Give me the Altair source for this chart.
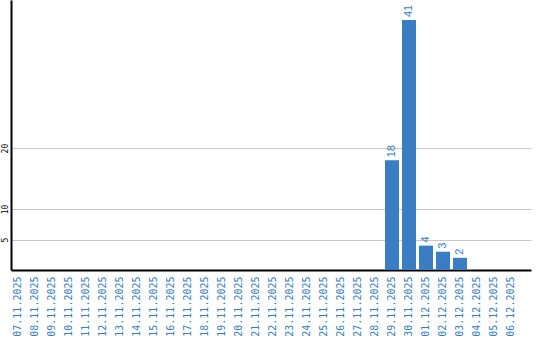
import altair as alt
import pandas as pd

dates = ["07.11.2025", "08.11.2025", "09.11.2025", "10.11.2025", "11.11.2025",
         "12.11.2025", "13.11.2025", "14.11.2025", "15.11.2025", "16.11.2025",
         "17.11.2025", "18.11.2025", "19.11.2025", "20.11.2025", "21.11.2025",
         "22.11.2025", "23.11.2025", "24.11.2025", "25.11.2025", "26.11.2025",
         "27.11.2025", "28.11.2025", "29.11.2025", "30.11.2025", "01.12.2025",
         "02.12.2025", "03.12.2025", "04.12.2025", "05.12.2025", "06.12.2025"]
counts = [0, 0, 0, 0, 0, 0, 0, 0, 0, 0,
          0, 0, 0, 0, 0, 0, 0, 0, 0, 0,
          0, 0, 18, 41, 4, 3, 2, 0, 0, 0]
y_ticks = [5, 10, 20]

df = pd.DataFrame({"date": dates, "count": counts})
BLUE = "#3a7dc3"

x = alt.X("date:N", sort=dates,
          scale=alt.Scale(domain=dates, paddingInner=0.176, paddingOuter=0.382, align=0),
          axis=alt.Axis(title=None, labelAngle=270, labelFont="DejaVu Sans Mono",
                        labelFontSize=10, labelColor=BLUE, ticks=False,
                        labelPadding=6, domainColor="black", domainWidth=2,
                        labelOverlap=False, labelAlign="right", labelBaseline="middle"))
y = alt.Y("count:Q", scale=alt.Scale(domain=[0, 44.3], nice=False, zero=True),
          axis=alt.Axis(title=None, values=y_ticks, labelAngle=270, labelAlign="center",
                        labelBaseline="bottom", labelFont="DejaVu Sans Mono",
                        labelFontSize=8, labelColor="black", ticks=False, labelPadding=2,
                        domainColor="black", domainWidth=2, grid=True,
                        gridColor="#c8c8c8", gridWidth=1))

bars = alt.Chart(df).mark_bar(color=BLUE).encode(x=x, y=y)
labels = alt.Chart(df).transform_filter("datum.count > 0").mark_text(
    angle=270, align="left", baseline="middle", dx=3, color=BLUE,
    font="Liberation Sans", fontSize=11
).encode(x=alt.X("date:N", sort=dates), y="count:Q", text="count:Q")

chart = (bars + labels).properties(
    width=520, height=270,
    autosize=alt.AutoSizeParams(type="none"),
    padding={"left": 11, "top": 0, "right": 9, "bottom": 70},
    background="white"
).configure_view(stroke=None)

chart.save("out.html", embed_options={"renderer": "svg", "actions": False})
